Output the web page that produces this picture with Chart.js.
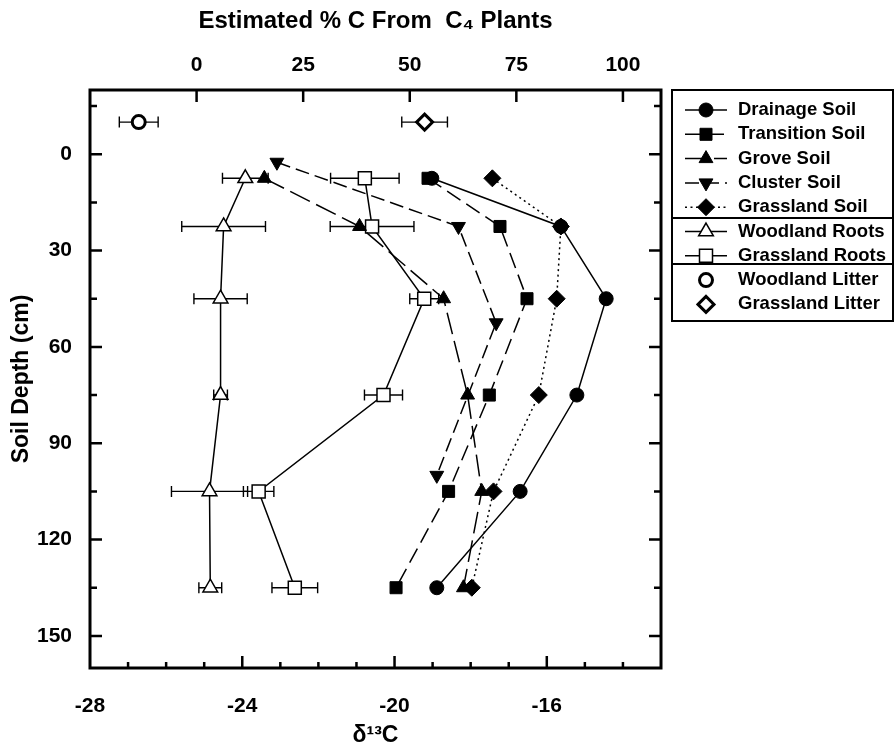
<!DOCTYPE html>
<html>
<head>
<meta charset="utf-8">
<title>Soil depth vs δ13C</title>
<script src="https://cdn.jsdelivr.net/npm/chart.js@4.4.1/dist/chart.umd.min.js"></script>
<style>
  html, body { margin: 0; padding: 0; background: #fff; }
  canvas { display: block; }
</style>
</head>
<body>
<canvas id="chart" width="894" height="748"></canvas>
<script>
// --- Data ---
const soilDepths = [7.5, 22.5, 45, 75, 105, 135];
const clusterDepths = [2.5, 22.5, 52.5, 100];
const litterDepth = [-10];

const drainageSoil = [-19.02, -15.63, -14.44, -15.21, -16.70, -18.89];
const transitionSoil = [-19.12, -17.23, -16.52, -17.51, -18.58, -19.96];
const groveSoil = [-23.42, -20.92, -18.71, -18.08, -17.71, -18.19];
const clusterSoil = [-23.09, -18.32, -17.33, -18.89];
const grasslandSoil = [-17.43, -15.63, -15.74, -16.21, -17.40, -17.97];
const woodlandRoots = [-23.92, -24.49, -24.57, -24.57, -24.86, -24.84];
const woodlandRootsErr = [0.60, 1.10, 0.70, 0.18, 1.00, 0.30];
const grasslandRoots = [-20.78, -20.59, -19.22, -20.29, -23.57, -22.62];
const grasslandRootsErr = [0.90, 1.10, 0.38, 0.50, 0.40, 0.60];
const woodlandLitter = [-26.72];
const woodlandLitterErr = [0.51];
const grasslandLitter = [-19.21];
const grasslandLitterErr = [0.60];

// --- Axes ---
const deltaTicks = [-28, -24, -20, -16];
const pctTicks = [0, 25, 50, 75, 100];
const depthTicks = [0, 30, 60, 90, 120, 150];
const deltaRange = [-28, -13];
const depthRange = [-20, 160];
const c3End = -25.2;   // delta at 0 % C4
const c4End = -14.0;   // delta at 100 % C4

const toPct = d => (d - c3End) / (c4End - c3End) * 100;
const pts = (xs, ys) => xs.map((x, i) => ({ x: x, y: ys[i] }));

Chart.defaults.font.family = "'Liberation Sans', Arial, sans-serif";
Chart.defaults.font.weight = 'bold';
Chart.defaults.color = '#000';

// horizontal error bars, drawn under the markers
const errorBars = {
  id: 'errorBars',
  beforeDatasetsDraw(chart) {
    const ctx = chart.ctx, xs = chart.scales.x, ys = chart.scales.y;
    ctx.save();
    ctx.strokeStyle = '#000';
    ctx.lineWidth = 1.4;
    chart.data.datasets.forEach(ds => {
      if (!ds.errX) return;
      ds.data.forEach((p, i) => {
        const y = ys.getPixelForValue(p.y);
        const x1 = xs.getPixelForValue(p.x - ds.errX[i]);
        const x2 = xs.getPixelForValue(p.x + ds.errX[i]);
        ctx.beginPath();
        ctx.moveTo(x1, y); ctx.lineTo(x2, y);
        ctx.moveTo(x1, y - 5.5); ctx.lineTo(x1, y + 5.5);
        ctx.moveTo(x2, y - 5.5); ctx.lineTo(x2, y + 5.5);
        ctx.stroke();
      });
    });
    ctx.restore();
  }
};

// box round the plot with ticks pointing inward
const frame = {
  id: 'frame',
  afterDraw(chart) {
    const ctx = chart.ctx, a = chart.chartArea;
    const xs = chart.scales.x, x2 = chart.scales.x2, ys = chart.scales.y;
    ctx.save();
    ctx.strokeStyle = '#000';
    ctx.lineWidth = 2.5;
    ctx.beginPath();
    for (let v = deltaRange[0] + 1; v < deltaRange[1]; v++) {
      const x = xs.getPixelForValue(v);
      const len = v % 4 === 0 ? 12 : 6;
      ctx.moveTo(x, a.bottom); ctx.lineTo(x, a.bottom - len);
    }
    pctTicks.forEach(v => {
      const x = x2.getPixelForValue(v);
      ctx.moveTo(x, a.top); ctx.lineTo(x, a.top + 12);
    });
    for (let v = -15; v < depthRange[1]; v += 15) {
      const y = ys.getPixelForValue(v);
      const len = v % 30 === 0 ? 12 : 7;
      ctx.moveTo(a.left, y); ctx.lineTo(a.left + len, y);
      ctx.moveTo(a.right, y); ctx.lineTo(a.right - len, y);
    }
    ctx.stroke();
    ctx.lineWidth = 3;
    ctx.strokeRect(a.left, a.top, a.right - a.left, a.bottom - a.top);
    ctx.restore();
  }
};

// legend box on the right
const legendBox = {
  id: 'legendBox',
  afterDraw(chart) {
    const ctx = chart.ctx;
    const left = 672, top = 90, right = 893, bottom = 321;
    ctx.save();
    ctx.strokeStyle = '#000';
    ctx.lineWidth = 2;
    ctx.strokeRect(left, top, right - left, bottom - top);
    ctx.beginPath();
    [218, 264].forEach(y => { ctx.moveTo(left, y); ctx.lineTo(right, y); });
    ctx.stroke();
    ctx.font = "bold 18.5px 'Liberation Sans', Arial, sans-serif";
    ctx.textBaseline = 'middle';
    chart.data.datasets.forEach((ds, i) => {
      const y = 110 + i * 24.3;
      if (ds.showLine) {
        ctx.save();
        ctx.lineWidth = ds.borderWidth;
        ctx.setLineDash(ds.borderDash || []);
        ctx.beginPath();
        ctx.moveTo(685, y); ctx.lineTo(727, y);
        ctx.stroke();
        ctx.restore();
      }
      ctx.save();
      ctx.fillStyle = ds.pointBackgroundColor;
      ctx.strokeStyle = '#000';
      ctx.lineWidth = ds.pointBorderWidth;
      Chart.helpers.drawPoint(ctx, {
        pointStyle: ds.pointStyle, rotation: ds.pointRotation || 0,
        radius: ds.pointRadius, borderWidth: ds.pointBorderWidth
      }, 706, y);
      ctx.restore();
      ctx.fillStyle = '#000';
      ctx.fillText(ds.label, 738, y);
    });
    ctx.restore();
  }
};

function series(label, xs, ys, style) {
  return Object.assign({
    label: label,
    data: pts(xs, ys),
    showLine: true,
    borderColor: '#000',
    borderWidth: 1.5,
    pointBorderColor: '#000',
    pointBackgroundColor: '#000',
    pointBorderWidth: 1,
    pointHoverRadius: 0
  }, style);
}

new Chart(document.getElementById('chart'), {
  type: 'scatter',
  data: {
    datasets: [
      series('Drainage Soil', drainageSoil, soilDepths, { pointStyle: 'circle', pointRadius: 7 }),
      series('Transition Soil', transitionSoil, soilDepths, { pointStyle: 'rect', pointRadius: 8.5, borderDash: [16, 7] }),
      series('Grove Soil', groveSoil, soilDepths, { pointStyle: 'triangle', pointRadius: 8, borderDash: [22, 7] }),
      series('Cluster Soil', clusterSoil, clusterDepths, { pointStyle: 'triangle', pointRotation: 180, pointRadius: 8, borderDash: [14, 6] }),
      series('Grassland Soil', grasslandSoil, soilDepths, { pointStyle: 'rectRot', pointRadius: 8.5, borderDash: [2, 3.5] }),
      series('Woodland Roots', woodlandRoots, soilDepths, { pointStyle: 'triangle', pointRadius: 8.5, pointBackgroundColor: '#fff', pointBorderWidth: 1.5, errX: woodlandRootsErr }),
      series('Grassland Roots', grasslandRoots, soilDepths, { pointStyle: 'rect', pointRadius: 9.2, pointBackgroundColor: '#fff', pointBorderWidth: 1.5, errX: grasslandRootsErr }),
      series('Woodland Litter', woodlandLitter, litterDepth, { showLine: false, pointStyle: 'circle', pointRadius: 6.5, pointBackgroundColor: '#fff', pointBorderWidth: 3, errX: woodlandLitterErr }),
      series('Grassland Litter', grasslandLitter, litterDepth, { showLine: false, pointStyle: 'rectRot', pointRadius: 8, pointBackgroundColor: '#fff', pointBorderWidth: 3, errX: grasslandLitterErr })
    ]
  },
  options: {
    responsive: false,
    animation: false,
    devicePixelRatio: 1,
    layout: { padding: { left: 0, top: 0, right: 233, bottom: 0 } },
    plugins: { legend: { display: false }, tooltip: { enabled: false } },
    scales: {
      x: {
        type: 'linear', position: 'bottom',
        min: deltaRange[0], max: deltaRange[1],
        afterBuildTicks: s => { s.ticks = deltaTicks.map(v => ({ value: v })); },
        afterFit: s => { s.height = 80; },
        grid: { display: false }, border: { display: false },
        ticks: { padding: 18, font: { size: 21 }, callback: v => String(v) },
        title: { display: true, text: 'δ¹³C', font: { size: 23, lineHeight: 1 }, padding: { top: 0, bottom: 1 } }
      },
      x2: {
        type: 'linear', position: 'top',
        min: toPct(deltaRange[0]), max: toPct(deltaRange[1]),
        afterBuildTicks: s => { s.ticks = pctTicks.map(v => ({ value: v })); },
        afterFit: s => { s.height = 90; },
        grid: { display: false }, border: { display: false },
        ticks: { padding: 4, font: { size: 21 }, callback: v => String(v) },
        title: { display: true, text: 'Estimated % C From  C₄ Plants', font: { size: 24, lineHeight: 1 }, padding: { top: 9, bottom: 0 } }
      },
      y: {
        type: 'linear', position: 'left', reverse: true,
        min: depthRange[0], max: depthRange[1],
        afterBuildTicks: s => { s.ticks = depthTicks.map(v => ({ value: v })); },
        afterFit: s => { s.width = 90; },
        grid: { display: false }, border: { display: false },
        ticks: { padding: 10, font: { size: 21 }, callback: v => String(v) },
        title: { display: true, text: 'Soil Depth (cm)', font: { size: 23, lineHeight: 1 }, padding: { top: 10, bottom: 0 } }
      }
    }
  },
  plugins: [errorBars, frame, legendBox]
});
</script>
</body>
</html>
